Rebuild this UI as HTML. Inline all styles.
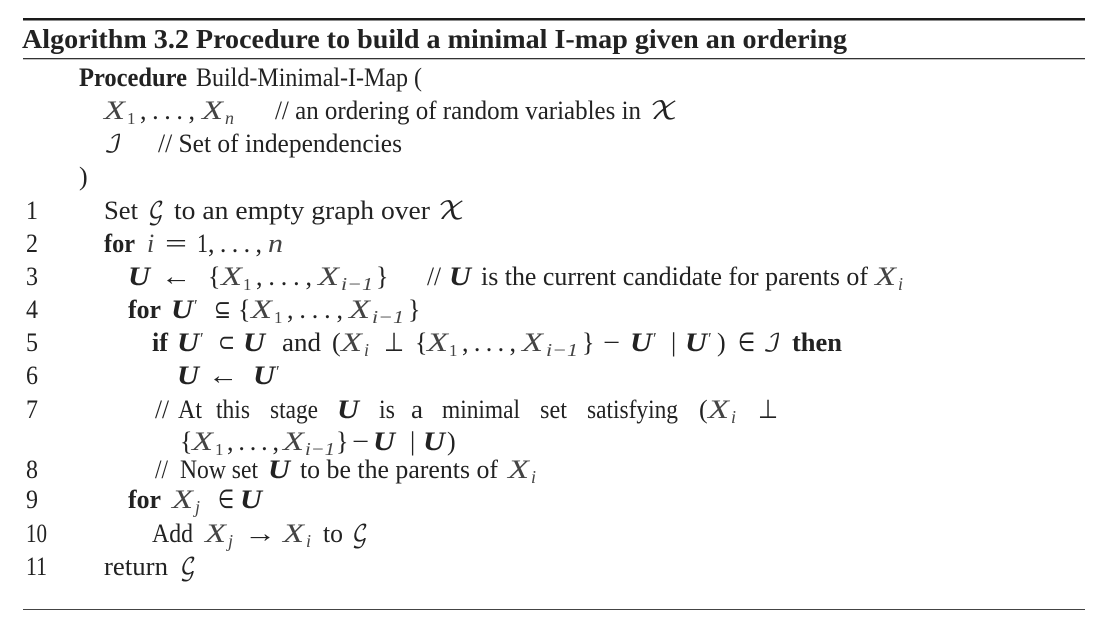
<!DOCTYPE html>
<html lang="en">
<head>
<meta charset="utf-8">
<title>Algorithm 3.2</title>
<style>
html,body{margin:0;padding:0;background:#fff;width:1113px;height:638px;overflow:hidden}
svg{display:block}
text{font-family:"Liberation Serif","DejaVu Serif",serif;font-size:26px;fill:#222;white-space:pre}
.b{font-weight:700}
.i{font-style:italic;fill:#444}
.x{font-style:italic;font-size:26px;fill:#444}
.bi{font-weight:700;font-style:italic}
.s{font-style:italic;font-size:18px;fill:#444}
.n{font-size:17px;fill:#444}
.m{font-family:"Liberation Serif","DejaVu Sans",serif;font-size:26px}
.c{font-family:"DejaVu Math TeX Gyre","DejaVu Sans",serif;font-size:24px}
</style>
</head>
<body>
<svg width="1113" height="638" viewBox="0 0 1113 638">
<rect x="23" y="18" width="1062" height="2.5" fill="#1a1a1a"/>
<rect x="23" y="58" width="1062" height="1.3" fill="#333"/>
<rect x="23" y="609" width="1062" height="1" fill="#444"/>

<g transform="translate(0,1)">
<text x="22" y="47" class="b" style="font-size:27px" textLength="825" lengthAdjust="spacingAndGlyphs">Algorithm 3.2 Procedure to build a minimal I-map given an ordering</text>

<g>
<text x="79" y="85" class="b" textLength="108" lengthAdjust="spacingAndGlyphs">Procedure</text>
<text x="196" y="85" textLength="226" lengthAdjust="spacingAndGlyphs">Build-Minimal-I-Map (</text>
</g>
<g>
<text x="104" y="118" class="x" textLength="21" lengthAdjust="spacingAndGlyphs">X</text><text x="127" y="123" class="n">1</text>
<text x="140" y="118" textLength="55" lengthAdjust="spacing">, . . . ,</text>
<text x="202" y="118" class="x" textLength="21" lengthAdjust="spacingAndGlyphs">X</text><text x="225" y="123" class="s">n</text>
<text x="275" y="118" textLength="366" lengthAdjust="spacingAndGlyphs">// an ordering of random variables in</text>
<text x="650" y="118" class="c" textLength="28" lengthAdjust="spacingAndGlyphs">𝒳</text>
</g>
<g>
<text x="104" y="151" class="c" textLength="18" lengthAdjust="spacingAndGlyphs">ℐ</text>
<text x="158" y="151" textLength="244" lengthAdjust="spacingAndGlyphs">// Set of independencies</text>
</g>
<text x="79" y="184">)</text>

<g>
<text x="26" y="218" textLength="12" lengthAdjust="spacingAndGlyphs">1</text>
<text x="104" y="218" textLength="34" lengthAdjust="spacingAndGlyphs">Set</text>
<text x="148" y="218" class="c" textLength="16" lengthAdjust="spacingAndGlyphs">𝒢</text>
<text x="174" y="218" textLength="256" lengthAdjust="spacingAndGlyphs">to an empty graph over</text>
<text x="438" y="218" class="c" textLength="27" lengthAdjust="spacingAndGlyphs">𝒳</text>
</g>
<g>
<text x="26" y="251" textLength="12" lengthAdjust="spacingAndGlyphs">2</text>
<text x="104" y="251" class="b" textLength="31" lengthAdjust="spacingAndGlyphs">for</text>
<text x="147" y="251" class="i">i</text>
<text x="165" y="251" textLength="22" lengthAdjust="spacingAndGlyphs">=</text>
<text x="197" y="251" textLength="11" lengthAdjust="spacingAndGlyphs">1</text>
<text x="208" y="251" textLength="54" lengthAdjust="spacing">, . . . ,</text>
<text x="268" y="251" class="i" textLength="15" lengthAdjust="spacingAndGlyphs">n</text>
</g>
<g>
<text x="26" y="284" textLength="12" lengthAdjust="spacingAndGlyphs">3</text>
<text x="128" y="284" class="bi" textLength="22" lengthAdjust="spacingAndGlyphs">U</text>
<text x="161" y="284" class="m" textLength="30" lengthAdjust="spacingAndGlyphs">←</text>
<text x="208" y="284">{</text>
<text x="221" y="284" class="x" textLength="21" lengthAdjust="spacingAndGlyphs">X</text><text x="243" y="289" class="n">1</text>
<text x="256" y="284" textLength="56" lengthAdjust="spacing">, . . . ,</text>
<text x="318" y="284" class="x" textLength="21" lengthAdjust="spacingAndGlyphs">X</text><text x="341" y="289" class="s" textLength="32" lengthAdjust="spacingAndGlyphs">i−1</text>
<text x="376" y="284">}</text>
<text x="427" y="284" textLength="14" lengthAdjust="spacingAndGlyphs">//</text>
<text x="449" y="284" class="bi" textLength="22" lengthAdjust="spacingAndGlyphs">U</text>
<text x="481" y="284" textLength="387" lengthAdjust="spacingAndGlyphs">is the current candidate for parents of</text>
<text x="875" y="284" class="x" textLength="21" lengthAdjust="spacingAndGlyphs">X</text><text x="898" y="289" class="s">i</text>
</g>
<g>
<text x="26" y="317" textLength="12" lengthAdjust="spacingAndGlyphs">4</text>
<text x="128" y="317" class="b" textLength="33" lengthAdjust="spacingAndGlyphs">for</text>
<text x="171" y="317" class="bi" textLength="22" lengthAdjust="spacingAndGlyphs">U</text><text x="194" y="310" class="n">′</text>
<text x="214" y="317" class="m" textLength="17" lengthAdjust="spacingAndGlyphs">⊆</text>
<text x="238" y="317">{</text>
<text x="251" y="317" class="x" textLength="21" lengthAdjust="spacingAndGlyphs">X</text><text x="274" y="322" class="n">1</text>
<text x="287" y="317" textLength="56" lengthAdjust="spacing">, . . . ,</text>
<text x="349" y="317" class="x" textLength="21" lengthAdjust="spacingAndGlyphs">X</text><text x="372" y="322" class="s" textLength="32" lengthAdjust="spacingAndGlyphs">i−1</text>
<text x="408" y="317">}</text>
</g>
<g>
<text x="26" y="350" textLength="12" lengthAdjust="spacingAndGlyphs">5</text>
<text x="152" y="350" class="b" textLength="16" lengthAdjust="spacingAndGlyphs">if</text>
<text x="177" y="350" class="bi" textLength="22" lengthAdjust="spacingAndGlyphs">U</text><text x="200" y="343" class="n">′</text>
<text x="218" y="350" class="m" textLength="17" lengthAdjust="spacingAndGlyphs">⊂</text>
<text x="243" y="350" class="bi" textLength="22" lengthAdjust="spacingAndGlyphs">U</text>
<text x="282" y="350" textLength="39" lengthAdjust="spacingAndGlyphs">and</text>
<text x="332" y="350">(</text>
<text x="341" y="350" class="x" textLength="21" lengthAdjust="spacingAndGlyphs">X</text><text x="364" y="355" class="s">i</text>
<text x="384" y="350" class="m" textLength="20" lengthAdjust="spacingAndGlyphs">⊥</text>
<text x="415" y="350">{</text>
<text x="427" y="350" class="x" textLength="21" lengthAdjust="spacingAndGlyphs">X</text><text x="449" y="355" class="n">1</text>
<text x="462" y="350" textLength="54" lengthAdjust="spacing">, . . . ,</text>
<text x="522" y="350" class="x" textLength="21" lengthAdjust="spacingAndGlyphs">X</text><text x="546" y="355" class="s" textLength="32" lengthAdjust="spacingAndGlyphs">i−1</text>
<text x="582" y="350">}</text>
<text x="603" y="350" textLength="17" lengthAdjust="spacingAndGlyphs">−</text>
<text x="630" y="350" class="bi" textLength="22" lengthAdjust="spacingAndGlyphs">U</text><text x="653" y="343" class="n">′</text>
<text x="671" y="350">|</text>
<text x="685" y="350" class="bi" textLength="22" lengthAdjust="spacingAndGlyphs">U</text><text x="708" y="343" class="n">′</text>
<text x="717" y="350">)</text>
<text x="738" y="350" class="m" textLength="17" lengthAdjust="spacingAndGlyphs">∈</text>
<text x="763" y="350" class="c" textLength="18" lengthAdjust="spacingAndGlyphs">ℐ</text>
<text x="792" y="350" class="b" textLength="50" lengthAdjust="spacingAndGlyphs">then</text>
</g>
<g>
<text x="26" y="383" textLength="12" lengthAdjust="spacingAndGlyphs">6</text>
<text x="177" y="383" class="bi" textLength="22" lengthAdjust="spacingAndGlyphs">U</text>
<text x="208" y="383" class="m" textLength="30" lengthAdjust="spacingAndGlyphs">←</text>
<text x="253" y="383" class="bi" textLength="22" lengthAdjust="spacingAndGlyphs">U</text><text x="276" y="376" class="n">′</text>
</g>
<g>
<text x="26" y="417" textLength="12" lengthAdjust="spacingAndGlyphs">7</text>
<text x="155" y="417" textLength="14" lengthAdjust="spacingAndGlyphs">//</text>
<text x="178" y="417" textLength="24" lengthAdjust="spacingAndGlyphs">At</text>
<text x="216" y="417" textLength="34" lengthAdjust="spacingAndGlyphs">this</text>
<text x="270" y="417" textLength="48" lengthAdjust="spacingAndGlyphs">stage</text>
<text x="337" y="417" class="bi" textLength="22" lengthAdjust="spacingAndGlyphs">U</text>
<text x="379" y="417" textLength="16" lengthAdjust="spacingAndGlyphs">is</text>
<text x="411" y="417" textLength="12" lengthAdjust="spacingAndGlyphs">a</text>
<text x="442" y="417" textLength="78" lengthAdjust="spacingAndGlyphs">minimal</text>
<text x="540" y="417" textLength="27" lengthAdjust="spacingAndGlyphs">set</text>
<text x="587" y="417" textLength="91" lengthAdjust="spacingAndGlyphs">satisfying</text>
<text x="699" y="417">(</text>
<text x="708" y="417" class="x" textLength="21" lengthAdjust="spacingAndGlyphs">X</text><text x="731" y="422" class="s">i</text>
<text x="758" y="417" class="m" textLength="20" lengthAdjust="spacingAndGlyphs">⊥</text>
</g>
<g>
<text x="180" y="449">{</text>
<text x="192" y="449" class="x" textLength="21" lengthAdjust="spacingAndGlyphs">X</text><text x="215" y="454" class="n">1</text>
<text x="227" y="449" textLength="52" lengthAdjust="spacing">, . . . ,</text>
<text x="283" y="449" class="x" textLength="21" lengthAdjust="spacingAndGlyphs">X</text><text x="305" y="454" class="s" textLength="30" lengthAdjust="spacingAndGlyphs">i−1</text>
<text x="336" y="449">}</text>
<text x="352" y="449" textLength="17" lengthAdjust="spacingAndGlyphs">−</text>
<text x="373" y="449" class="bi" textLength="22" lengthAdjust="spacingAndGlyphs">U</text>
<text x="410" y="449">|</text>
<text x="423" y="449" class="bi" textLength="22" lengthAdjust="spacingAndGlyphs">U</text>
<text x="447" y="449">)</text>
</g>
<g>
<text x="26" y="477" textLength="12" lengthAdjust="spacingAndGlyphs">8</text>
<text x="155" y="477" textLength="13" lengthAdjust="spacingAndGlyphs">//</text>
<text x="180" y="477" textLength="78" lengthAdjust="spacingAndGlyphs">Now set</text>
<text x="268" y="477" class="bi" textLength="22" lengthAdjust="spacingAndGlyphs">U</text>
<text x="300" y="477" textLength="198" lengthAdjust="spacingAndGlyphs">to be the parents of</text>
<text x="508" y="477" class="x" textLength="21" lengthAdjust="spacingAndGlyphs">X</text><text x="531" y="482" class="s">i</text>
</g>
<g>
<text x="26" y="507" textLength="12" lengthAdjust="spacingAndGlyphs">9</text>
<text x="128" y="507" class="b" textLength="33" lengthAdjust="spacingAndGlyphs">for</text>
<text x="172" y="507" class="x" textLength="21" lengthAdjust="spacingAndGlyphs">X</text><text x="195" y="512" class="s">j</text>
<text x="218" y="507" class="m" textLength="16" lengthAdjust="spacingAndGlyphs">∈</text>
<text x="240" y="507" class="bi" textLength="22" lengthAdjust="spacingAndGlyphs">U</text>
</g>
<g>
<text x="26" y="541" textLength="21" lengthAdjust="spacingAndGlyphs">10</text>
<text x="152" y="541" textLength="41" lengthAdjust="spacingAndGlyphs">Add</text>
<text x="205" y="541" class="x" textLength="21" lengthAdjust="spacingAndGlyphs">X</text><text x="228" y="546" class="s">j</text>
<text x="244" y="541" class="m" textLength="32" lengthAdjust="spacingAndGlyphs">→</text>
<text x="283" y="541" class="x" textLength="21" lengthAdjust="spacingAndGlyphs">X</text><text x="306" y="546" class="s">i</text>
<text x="323" y="541" textLength="20" lengthAdjust="spacingAndGlyphs">to</text>
<text x="352" y="541" class="c" textLength="16" lengthAdjust="spacingAndGlyphs">𝒢</text>
</g>
<g>
<text x="26" y="574" textLength="21" lengthAdjust="spacingAndGlyphs">11</text>
<text x="104" y="574" textLength="64" lengthAdjust="spacingAndGlyphs">return</text>
<text x="180" y="574" class="c" textLength="16" lengthAdjust="spacingAndGlyphs">𝒢</text>
</g>
</g>
</svg>
</body>
</html>
